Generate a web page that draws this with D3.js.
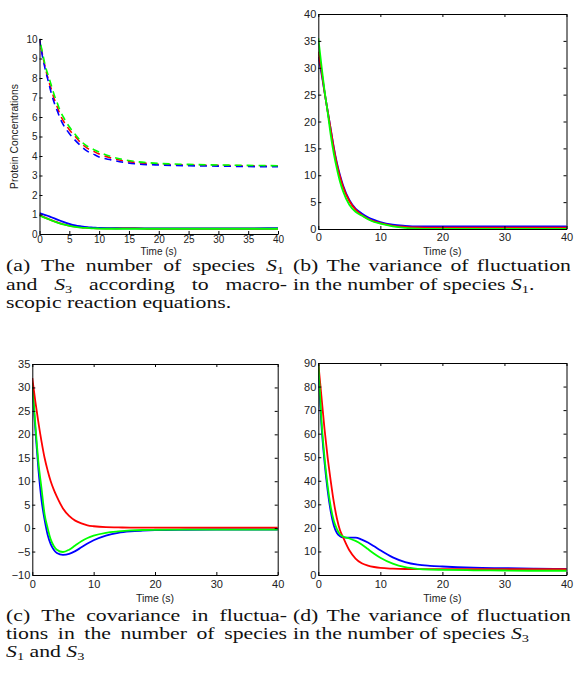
<!DOCTYPE html>
<html lang="en">
<head>
<meta charset="UTF-8">
<title>Species fluctuations</title>
<script src="https://cdn.jsdelivr.net/npm/d3@7/dist/d3.min.js"></script>
<style>
  body { margin: 0; background: #fff; }
  svg { display: block; }
  .tick text { font-family: "Liberation Sans", Arial, sans-serif; fill: #222; }
  .axlabel { font-family: "Liberation Sans", Arial, sans-serif; fill: #222; }
  .cap { font-family: "Liberation Serif", "Times New Roman", serif; fill: #111; }
</style>
</head>
<body>
<script>
// time grid shared by every curve
var tGrid = [0, 0.5, 1, 1.5, 2, 2.5, 3, 3.5, 4, 5, 6, 7, 8, 9, 10, 12, 14, 16, 18, 20, 25, 30, 35, 40];

// (a) macroscopic numbers: dashed = S1, solid = S3
var aRedDash   = [10, 9.2, 8.5, 7.9, 7.4, 6.9, 6.5, 6.1, 5.8, 5.35, 5.0, 4.65, 4.4, 4.25, 4.1, 3.9, 3.75, 3.67, 3.62, 3.58, 3.54, 3.52, 3.5, 3.48];
var aBlueDash  = [10, 9.1, 8.4, 7.8, 7.2, 6.7, 6.3, 5.9, 5.6, 5.15, 4.8, 4.5, 4.25, 4.1, 3.95, 3.8, 3.68, 3.6, 3.56, 3.54, 3.5, 3.48, 3.46, 3.45];
var aGreenDash = [10, 9.3, 8.6, 8.1, 7.6, 7.1, 6.7, 6.3, 6.0, 5.5, 5.1, 4.75, 4.5, 4.35, 4.2, 3.97, 3.82, 3.72, 3.66, 3.62, 3.57, 3.54, 3.52, 3.5];
var aRedSolid   = [0.97, 0.9, 0.83, 0.77, 0.71, 0.65, 0.6, 0.55, 0.5, 0.43, 0.38, 0.34, 0.32, 0.3, 0.29, 0.29, 0.3, 0.3, 0.27, 0.27, 0.27, 0.27, 0.27, 0.27];
var aBlueSolid  = [1.07, 1.02, 0.97, 0.92, 0.86, 0.8, 0.74, 0.68, 0.62, 0.52, 0.44, 0.39, 0.35, 0.33, 0.31, 0.3, 0.29, 0.29, 0.29, 0.29, 0.29, 0.29, 0.29, 0.3];
var aGreenSolid = [0.95, 0.88, 0.82, 0.76, 0.7, 0.64, 0.58, 0.53, 0.49, 0.42, 0.37, 0.33, 0.31, 0.29, 0.28, 0.27, 0.27, 0.27, 0.27, 0.27, 0.27, 0.27, 0.27, 0.27];

// (b) variance of S1
var bRed   = [33, 29.5, 25.5, 22, 18.5, 15, 12, 9.7, 7.8, 5.2, 3.6, 2.6, 1.9, 1.4, 1.1, 0.6, 0.4, 0.3, 0.25, 0.25, 0.25, 0.25, 0.25, 0.25];
var bBlue  = [32, 29, 25.5, 22, 18.6, 15.2, 12.3, 10, 8.1, 5.4, 3.8, 2.9, 2.2, 1.7, 1.3, 0.8, 0.6, 0.5, 0.5, 0.5, 0.5, 0.5, 0.5, 0.5];
var bGreen = [35.5, 30.5, 25.8, 21.8, 17.5, 14, 11.2, 8.8, 7, 4.5, 3.2, 2.5, 1.8, 1.3, 1.0, 0.5, 0.2, 0.05, 0, 0, 0, 0, 0, 0];

// (c) covariance of S1 and S3
var cRed   = [32, 27, 22.5, 18.5, 15, 12.3, 10, 8.2, 6.7, 4.2, 2.6, 1.6, 1.0, 0.6, 0.4, 0.2, 0.15, 0.1, 0.1, 0.1, 0.1, 0.1, 0.1, 0.1];
var cBlue  = [30, 21, 12.5, 6, 1.8, -1.4, -3.4, -4.6, -5.3, -5.7, -5.5, -4.9, -4.1, -3.3, -2.6, -1.6, -1.0, -0.7, -0.55, -0.45, -0.35, -0.3, -0.3, -0.3];
var cGreen = [31, 22, 14, 8.5, 3, 0, -2.4, -3.8, -4.6, -5.1, -4.6, -3.7, -2.8, -2.1, -1.6, -1, -0.7, -0.5, -0.4, -0.35, -0.3, -0.3, -0.3, -0.3];

// (d) variance of S3
var dRed   = [90, 76, 62, 50, 40, 31, 24, 19, 16, 10.5, 7, 5, 4, 3.4, 3.0, 2.7, 2.55, 2.5, 2.5, 2.5, 2.5, 2.5, 2.5, 2.5];
var dBlue  = [89, 64, 48, 36, 27, 21, 17.8, 16.5, 16, 15.9, 15.9, 15, 13.8, 12.2, 10.5, 7.5, 5.5, 4.4, 3.9, 3.6, 3.1, 2.9, 2.7, 2.6];
var dGreen = [90, 66, 50, 38, 29, 23, 19.5, 17.3, 16.3, 15.5, 14.5, 13, 11, 9, 7.3, 4.8, 3.3, 2.6, 2.3, 2.2, 2, 1.9, 1.8, 1.8];

// tick labels
var xTicksA = [0, 5, 10, 15, 20, 25, 30, 35, 40];
var yTicksA = [0, 1, 2, 3, 4, 5, 6, 7, 8, 9, 10];
var xTicks  = [0, 10, 20, 30, 40];
var yTicksB = [0, 5, 10, 15, 20, 25, 30, 35, 40];
var yTicksC = [-10, -5, 0, 5, 10, 15, 20, 25, 30, 35];
var yTicksD = [0, 10, 20, 30, 40, 50, 60, 70, 80, 90];

var RED = '#ff0000', BLUE = '#0000ff', GREEN = '#00ff00';

var W = 577, H = 689;
var svg = d3.select('body').append('svg').attr('width', W).attr('height', H);

function drawPanel(p) {
  var x = d3.scaleLinear().domain([0, 40]).range([p.x0, p.x1]);
  var y = d3.scaleLinear().domain(p.yDom).range([p.yb, p.yt]);
  var g = svg.append('g');

  var line = d3.line().curve(d3.curveMonotoneX)
    .x(function(d, i) { return x(tGrid[i]); })
    .y(function(d) { return y(d); });

  // clip so the curves stay inside the frame
  var cid = 'clip' + p.id;
  svg.append('clipPath').attr('id', cid).append('rect')
    .attr('x', p.x0).attr('y', p.yt - 2).attr('width', p.x1 - p.x0 + 1).attr('height', p.yb - p.yt + 3);

  var lg = g.append('g').attr('clip-path', 'url(#' + cid + ')');
  p.series.forEach(function(s) {
    lg.append('path').datum(s.v)
      .attr('d', line)
      .attr('fill', 'none')
      .attr('stroke', s.c)
      .attr('stroke-width', s.w || 1.8)
      .attr('stroke-dasharray', s.dash || null)
      .attr('stroke-dashoffset', s.off || 0);
  });

  var fs = p.fs || 11;
  var ax = g.append('g').attr('transform', 'translate(0,' + p.yb + ')')
    .call(d3.axisBottom(x).tickValues(p.xt).tickSize(-3).tickSizeOuter(0).tickPadding(p.xpad || 5));
  var ay = g.append('g').attr('transform', 'translate(' + p.x0 + ',0)')
    .call(d3.axisLeft(y).tickValues(p.yt2).tickSize(-3).tickSizeOuter(0).tickPadding(2));
  [ax, ay].forEach(function(a) {
    a.selectAll('text').style('font-size', fs + 'px');
    a.selectAll('line, path').attr('stroke', '#000');
  });

  if (p.box) {
    g.append('g').attr('transform', 'translate(0,' + p.yt + ')')
      .call(d3.axisTop(x).tickValues(p.xt).tickSize(-3).tickSizeOuter(0).tickFormat(''))
      .selectAll('line, path').attr('stroke', '#000');
    g.append('g').attr('transform', 'translate(' + p.x1 + ',0)')
      .call(d3.axisRight(y).tickValues(p.yt2).tickSize(-3).tickSizeOuter(0).tickFormat(''))
      .selectAll('line, path').attr('stroke', '#000');
  }

  g.append('text').attr('class', 'axlabel')
    .attr('x', (p.x0 + p.x1) / 2).attr('y', p.yb + p.labDy)
    .attr('text-anchor', 'middle').style('font-size', (p.labFs || 10.5) + 'px')
    .text('Time (s)');

  if (p.ylab) {
    g.append('text').attr('class', 'axlabel')
      .attr('transform', 'translate(' + p.ylabX + ',' + ((p.yt + p.yb) / 2) + ') rotate(-90)')
      .attr('text-anchor', 'middle').style('font-size', '10.3px')
      .text(p.ylab);
  }
}

drawPanel({
  id: 'a', x0: 39.5, x1: 278, yt: 39, yb: 234, yDom: [0, 10], xt: xTicksA, yt2: yTicksA, fs: 10,
  box: false, labDy: 20.5, labFs: 10, xpad: 2, ylab: 'Protein Concentrations', ylabX: 18,
  series: [
    { v: aRedDash, c: RED, dash: '7,5', off: 3, w: 1.6 },
    { v: aBlueDash, c: BLUE, dash: '7,5', off: 0, w: 1.6 },
    { v: aGreenDash, c: GREEN, dash: '7,5', off: 6, w: 1.6 },
    { v: aRedSolid, c: RED },
    { v: aBlueSolid, c: BLUE },
    { v: aGreenSolid, c: GREEN }
  ]
});

drawPanel({
  id: 'b', x0: 318.3, x1: 566.5, yt: 14, yb: 229, yDom: [0, 40], xt: xTicks, yt2: yTicksB,
  box: true, labDy: 25.5, xpad: 4.5,
  series: [
    { v: bBlue, c: BLUE }, { v: bRed, c: RED }, { v: bGreen, c: GREEN }
  ]
});

drawPanel({
  id: 'c', x0: 32.3, x1: 277.7, yt: 364, yb: 575, yDom: [-10, 35], xt: xTicks, yt2: yTicksC,
  box: true, labDy: 27, xpad: 5,
  series: [
    { v: cBlue, c: BLUE }, { v: cGreen, c: GREEN }, { v: cRed, c: RED }
  ]
});

drawPanel({
  id: 'd', x0: 318.3, x1: 566.5, yt: 363, yb: 575, yDom: [0, 90], xt: xTicks, yt2: yTicksD,
  box: true, labDy: 27, xpad: 5,
  series: [
    { v: dBlue, c: BLUE }, { v: dRed, c: RED }, { v: dGreen, c: GREEN }
  ]
});

// captions: LaTeX-like justified lines
var capFs = 16, capSx = 1.36;

function addWord(parent, w) {
  var t = parent.append('text').attr('class', 'cap').style('font-size', capFs + 'px');
  var m = w.match(/^S_(\d)(.*)$/);
  if (m) {
    t.append('tspan').style('font-style', 'italic').text('S');
    t.append('tspan').attr('dy', 2.5).style('font-size', (capFs * 0.66) + 'px').text(m[1]);
    if (m[2]) t.append('tspan').attr('dy', -2.5).text(m[2]);
  } else {
    t.text(w);
  }
  return t;
}

function capLine(str, x0, x1, y, just) {
  var g = svg.append('g').attr('transform', 'translate(' + x0 + ',' + y + ') scale(' + capSx + ',1)');
  var words = str.split(' ');
  var nodes = words.map(function(w) { return addWord(g, w); });
  var widths = nodes.map(function(n) { return n.node().getComputedTextLength(); });
  var avail = (x1 - x0) / capSx;
  var total = d3.sum(widths);
  var gap = capFs * 0.25;
  if (just && words.length > 1) gap = (avail - total) / (words.length - 1);
  var cx = 0;
  nodes.forEach(function(n, i) {
    n.attr('x', cx).attr('y', 0);
    cx += widths[i] + gap;
  });
}

capLine('(a) The number of species S_1', 6, 284, 271, true);
capLine('and S_3 according to macro-', 6, 287, 290, true);
capLine('scopic reaction equations.', 6, 288, 308, false);
capLine('(b) The variance of fluctuation', 293, 571, 271, true);
capLine('in the number of species S_1.', 293, 571, 290, false);

capLine('(c) The covariance in fluctua-', 6, 287, 621, true);
capLine('tions in the number of species', 6, 287, 639, true);
capLine('S_1 and S_3', 6, 288, 657, false);
capLine('(d) The variance of fluctuation', 293, 571, 621, true);
capLine('in the number of species S_3', 293, 571, 639, false);
</script>
</body>
</html>
